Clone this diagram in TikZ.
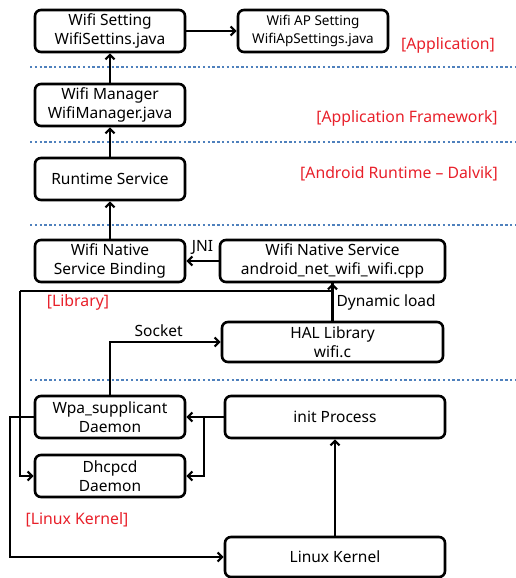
\documentclass[tikz,border=0pt]{standalone}
\usepackage{fontspec}
\setmainfont{Noto Sans}
\usetikzlibrary{arrows.meta}
\definecolor{lblred}{HTML}{E8202A}
\definecolor{dotblue}{HTML}{4F81BD}
\tikzset{
  box/.style={draw, line width=2.6pt, rounded corners=6pt, align=center, inner sep=0pt,
    minimum width=150pt, minimum height=42pt, font=\fontsize{15.5}{19}\selectfont},
  widebox/.style={box, minimum width=222pt},
  arr/.style={line width=2.2pt, -{Straight Barb[length=4.5pt,width=9pt,line width=2.2pt]}},
  conn/.style={line width=2.2pt},
  layer/.style={text=lblred, font=\fontsize{15.8}{19}\selectfont, inner sep=0pt},
  lbl/.style={font=\fontsize{15.5}{19}\selectfont, inner sep=0pt},
  sep/.style={dotblue, line width=2.6pt, dash pattern=on 2.4pt off 2.4pt}
}
\begin{document}
\begin{tikzpicture}[x=1pt,y=-1pt]
\useasboundingbox (0,0) rectangle (515,578);
% layer separators
\draw[sep] (30,67) -- (515,67);
\draw[sep] (30,142) -- (515,142);
\draw[sep] (30,225) -- (515,225);
\draw[sep] (30,380) -- (515,380);
% boxes
\node[box] (ws) at (110,31) {Wifi Setting\\WifiSettins.java};
\node[box, font=\fontsize{13.5}{17.5}\selectfont] (ap) at (313,31) {Wifi AP Setting\\WifiApSettings.java};
\node[box] (wm) at (110,105) {Wifi Manager\\WifiManager.java};
\node[box] (rs) at (110,179) {Runtime Service};
\node[box] (nb) at (110,261) {Wifi Native\\Service Binding};
\node[widebox, minimum width=225pt] (ns) at (332.5,261) {Wifi Native Service\\android\_net\_wifi\_wifi.cpp};
\node[widebox, minimum width=221pt, minimum height=40pt] (hal) at (332.5,342) {HAL Library\\wifi.c};
\node[box] (wpa) at (110,417) {Wpa\_supplicant\\Daemon};
\node[widebox, minimum width=220pt] (init) at (335,417) {init Process};
\node[box] (dh) at (110,476) {Dhcpcd\\Daemon};
\node[widebox, minimum width=220pt, minimum height=40pt] (lk) at (335,557) {Linux Kernel};
% layer labels
\node[layer] (l1) at (448,45) {[Application]};
\node[layer] (l2) at (407,118) {[Application Framework]};
\node[layer] (l3) at (399,174) {[Android Runtime -- Dalvik]};
\node[layer] (l4) at (78,302) {[Library]};
\node[layer] (l5) at (77,520) {[Linux Kernel]};
% helper coordinates
\coordinate (cL) at (20,291);
\coordinate (cK) at (10,0);
\coordinate (cJ) at (204,417);
% connectors
\draw[arr] (ws.east) -- (ap.west);
\draw[arr] (wm.north) -- (ws.south);
\draw[arr] (rs.north) -- (wm.south);
\draw[arr] (nb.north) -- (rs.south);
\draw[arr] (ns.west) -- node[lbl, above=5pt, pos=0.5] (jni) {JNI} (nb.east);
\draw[arr] (hal.north) -- node[lbl, right=3pt, pos=0.5] (dyn) {Dynamic load} (ns.south);
\draw[conn] (ns.south) |- (cL);
\draw[arr] (cL) |- (dh.west);
\draw[arr] (wpa.north) |- node[lbl, above=4pt, pos=0.72] (sock) {Socket} (hal.west);
\draw[arr] (wpa.west) -- (wpa.west -| cK) |- (lk.west);
\draw[arr] (init.west) -- (wpa.east);
\draw[arr] (cJ) |- (dh.east);
\draw[arr] (lk.north) -- (init.south);
\end{tikzpicture}
\end{document}
